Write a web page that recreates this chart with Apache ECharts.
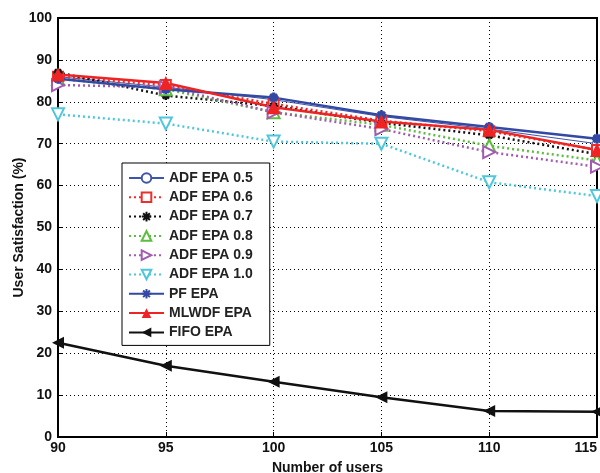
<!DOCTYPE html>
<html>
<head>
<meta charset="utf-8">
<script src="https://cdn.jsdelivr.net/npm/echarts@6/dist/echarts.min.js"></script>
<style>
html,body{margin:0;padding:0;background:#fff;}
#chart{width:600px;height:473px;}
</style>
</head>
<body>
<div id="chart"></div>
<script>
var users = [90, 95, 100, 105, 110, 115];

var adf05 = [86.0, 83.5, 80.5, 76.5, 73.5, 70.0];
var adf06 = [86.0, 84.0, 79.5, 75.5, 73.0, 68.5];
var adf07 = [87.0, 81.5, 79.0, 75.0, 72.0, 67.5];
var adf08 = [85.5, 83.0, 77.5, 74.5, 69.5, 66.0];
var adf09 = [84.0, 83.5, 77.5, 73.5, 68.0, 64.5];
var adf10 = [77.0, 74.8, 70.5, 70.0, 60.8, 57.5];
var pfEpa = [85.5, 83.0, 81.0, 76.8, 74.0, 71.2];
var mlwdf = [86.5, 84.5, 78.7, 75.3, 73.3, 68.5];
var fifo  = [22.5, 17.0, 13.2, 9.5, 6.2, 6.0];

var asterisk = 'path://M0,5L10,5M5,0L5,10M1.5,1.5L8.5,8.5M8.5,1.5L1.5,8.5';
var triRight = 'path://M0,0L10,5L0,10Z';
var triDown = 'path://M0,0L10,0L5,10Z';
var triLeft = 'path://M10,0L0,5L10,10Z';

function pts(arr){
	var out = [];
	for(var i=0;i<users.length;i++){ out.push([users[i], arr[i]]); }
	return out;
}

var dotted = [2, 3];

var chart = echarts.init(document.getElementById('chart'));
var option = {
	animation: false,
	backgroundColor: '#fff',
	textStyle: {fontFamily: 'Liberation Sans, Arial, sans-serif'},
	grid: {
		left: 58, right: 3, top: 18, bottom: 36,
		outerBoundsMode: 'none', containLabel: false,
		show: true, borderColor: '#000', borderWidth: 2, backgroundColor: 'transparent'
	},
	legend: {
		orient: 'vertical',
		left: 122, top: 163,
		padding: [8, 17, 6, 6],
		backgroundColor: '#fff',
		borderColor: '#000', borderWidth: 1,
		itemWidth: 35, itemHeight: 12, itemGap: 5.3,
		textStyle: {fontSize: 14, fontWeight: 'bold', color: '#222', lineHeight: 12},
		data: ['ADF EPA 0.5','ADF EPA 0.6','ADF EPA 0.7','ADF EPA 0.8','ADF EPA 0.9','ADF EPA 1.0','PF EPA','MLWDF EPA','FIFO EPA']
	},
	xAxis: {
		type: 'value', min: 90, max: 115, interval: 5,
		name: 'Number of users', nameLocation: 'middle', nameGap: 24, nameMoveOverlap: false,
		nameTextStyle: {fontSize: 14, fontWeight: 'bold', color: '#111'},
		axisLine: {lineStyle: {color: '#000', width: 2}},
		axisTick: {inside: true, length: 5, lineStyle: {color: '#000', width: 1}},
		axisLabel: {fontSize: 14, fontWeight: 'bold', color: '#111', margin: 4, alignMaxLabel: 'right'},
		splitLine: {show: true, lineStyle: {color: '#000', type: [1, 3], width: 1}}
	},
	yAxis: {
		type: 'value', min: 0, max: 100, interval: 10,
		name: 'User Satisfaction (%)', nameLocation: 'middle', nameGap: 32, nameMoveOverlap: false,
		nameTextStyle: {fontSize: 14, fontWeight: 'bold', color: '#111'},
		axisLine: {lineStyle: {color: '#000', width: 2}},
		axisTick: {inside: true, length: 5, lineStyle: {color: '#000', width: 1}},
		axisLabel: {fontSize: 14, fontWeight: 'bold', color: '#111', margin: 6},
		splitLine: {show: true, lineStyle: {color: '#000', type: [1, 3], width: 1}}
	},
	series: [
		{
			name: 'ADF EPA 0.5', type: 'line', data: pts(adf05),
			symbol: 'circle', symbolSize: 9,
			lineStyle: {color: '#3f55aa', width: 1},
			itemStyle: {color: '#fff', borderColor: '#3f55aa', borderWidth: 1}
		},
		{
			name: 'ADF EPA 0.6', type: 'line', data: pts(adf06),
			symbol: 'rect', symbolSize: 10,
			lineStyle: {color: '#ee2d2d', width: 2.5, type: dotted},
			itemStyle: {color: '#fff', borderColor: '#ee2d2d', borderWidth: 2}
		},
		{
			name: 'ADF EPA 0.7', type: 'line', data: pts(adf07),
			symbol: asterisk, symbolSize: 9,
			lineStyle: {color: '#111', width: 2.5, type: dotted},
			itemStyle: {color: '#111', borderColor: '#111', borderWidth: 2.5}
		},
		{
			name: 'ADF EPA 0.8', type: 'line', data: pts(adf08),
			symbol: 'triangle', symbolSize: 12,
			lineStyle: {color: '#5cbd3f', width: 2.5, type: dotted},
			itemStyle: {color: '#fff', borderColor: '#5cbd3f', borderWidth: 2}
		},
		{
			name: 'ADF EPA 0.9', type: 'line', data: pts(adf09),
			symbol: triRight, symbolSize: 12,
			lineStyle: {color: '#a35bb2', width: 2.5, type: dotted},
			itemStyle: {color: '#fff', borderColor: '#a35bb2', borderWidth: 2}
		},
		{
			name: 'ADF EPA 1.0', type: 'line', data: pts(adf10),
			symbol: triDown, symbolSize: 12,
			lineStyle: {color: '#4ec6dc', width: 2.5, type: dotted},
			itemStyle: {color: '#fff', borderColor: '#4ec6dc', borderWidth: 2}
		},
		{
			name: 'PF EPA', type: 'line', data: pts(pfEpa),
			symbol: asterisk, symbolSize: 10,
			lineStyle: {color: '#3349a3', width: 2.5},
			itemStyle: {color: '#3349a3', borderColor: '#3349a3', borderWidth: 3}
		},
		{
			name: 'MLWDF EPA', type: 'line', data: pts(mlwdf),
			symbol: 'triangle', symbolSize: 14,
			lineStyle: {color: '#ee2424', width: 2.5},
			itemStyle: {color: '#ee2424'}
		},
		{
			name: 'FIFO EPA', type: 'line', data: pts(fifo),
			symbol: triLeft, symbolSize: 12,
			lineStyle: {color: '#111', width: 2.5},
			itemStyle: {color: '#111'}
		}
	]
};
chart.setOption(option);
</script>
</body>
</html>
